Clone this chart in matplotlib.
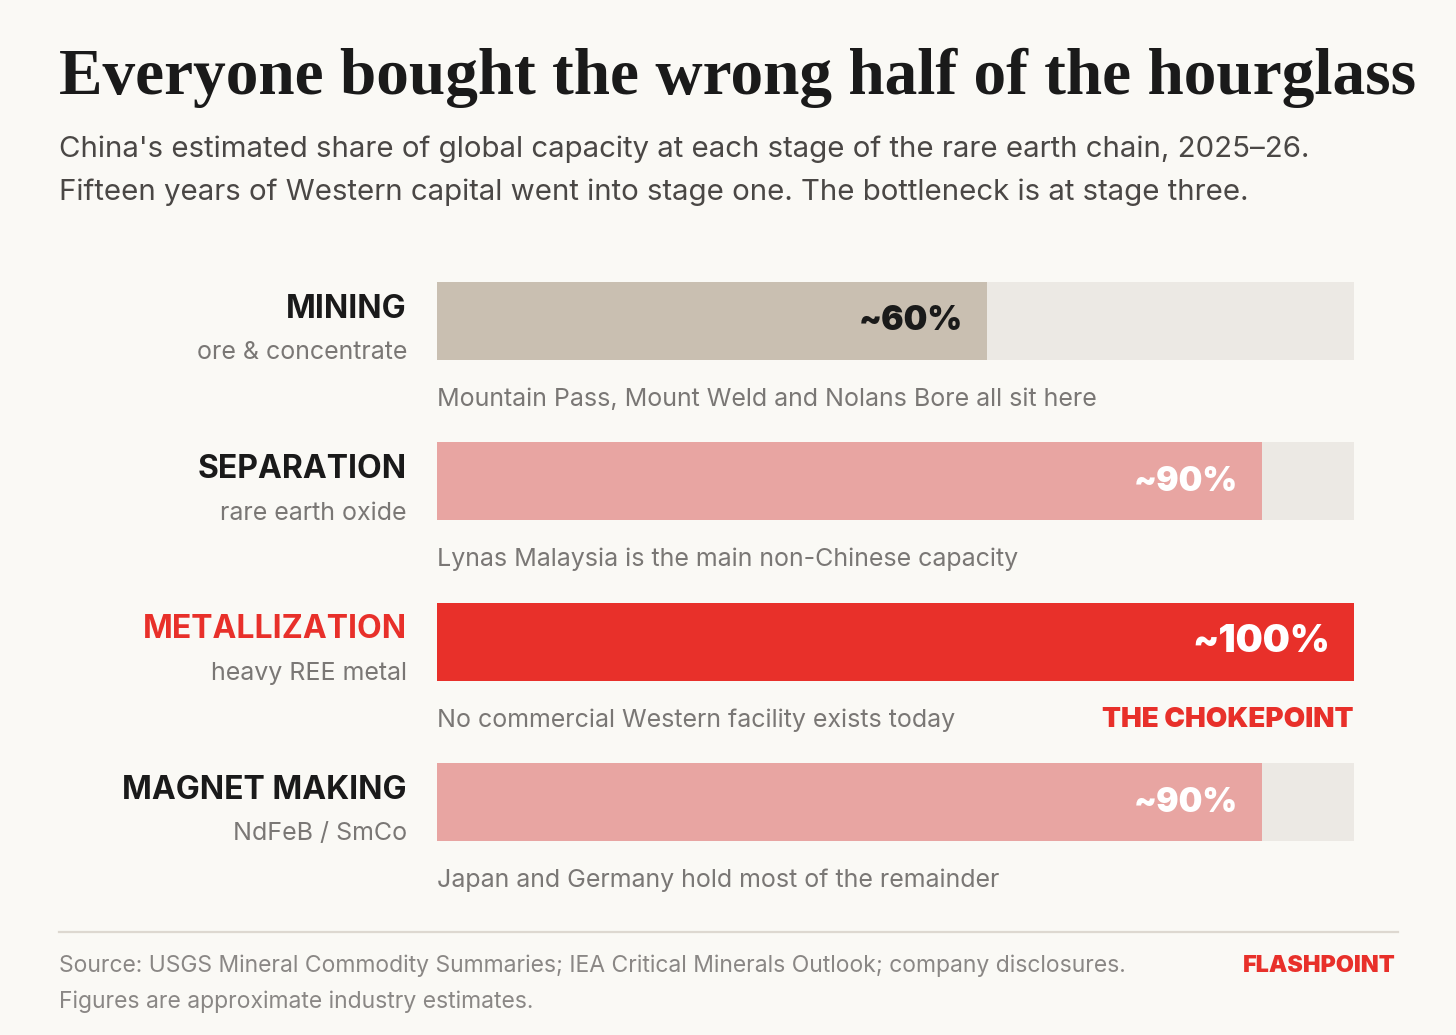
import matplotlib.pyplot as plt

# data
stages = ['MINING', 'SEPARATION', 'METALLIZATION', 'MAGNET MAKING']
stage_subs = ['ore & concentrate', 'rare earth oxide', 'heavy REE metal', 'NdFeB / SmCo']
shares = [60, 90, 100, 90]
share_labels = ['~60%', '~90%', '~100%', '~90%']
notes = ['Mountain Pass, Mount Weld and Nolans Bore all sit here',
         'Lynas Malaysia is the main non-Chinese capacity',
         'No commercial Western facility exists today',
         'Japan and Germany hold most of the remainder']
chokepoint = 2

title = 'Everyone bought the wrong half of the hourglass'
subtitle = ("China's estimated share of global capacity at each stage of the rare earth chain, 2025\u201326.\n"
            "Fifteen years of Western capital went into stage one. The bottleneck is at stage three.")
source = ('Source: USGS Mineral Commodity Summaries; IEA Critical Minerals Outlook; company disclosures.\n'
          'Figures are approximate industry estimates.')

# colours
BG = '#FAF9F5'
TRACK = '#ECE9E4'
TAN = '#C9BFB1'
PINK = '#E8A5A2'
RED = '#E8302A'
DARK = '#1A1A1A'
GREY = '#7A7775'

bar_colors = [TAN, PINK, RED, PINK]
value_colors = [DARK, 'white', 'white', 'white']
name_colors = [DARK, DARK, RED, DARK]

plt.rcParams['font.family'] = ['Inter', 'DejaVu Sans']

W, H = 1456, 1035
fig = plt.figure(figsize=(W / 100, H / 100), dpi=100, facecolor=BG)

# bar axes in pixel layout
x0, x1 = 437, 1354
y_top, y_bot = 240, 920
row0, pitch = 320.5, 160.5
ax = fig.add_axes([x0 / W, 1 - y_bot / H, (x1 - x0) / W, (y_bot - y_top) / H])
ax.set_facecolor('none')
ax.set_xlim(0, 100)
ax.set_ylim(3 + (y_bot - (row0 + 3 * pitch)) / pitch, -(row0 - y_top) / pitch)
ax.axis('off')

bh = 78 / pitch
rows = range(len(stages))
ax.barh(rows, [100] * len(stages), height=bh, color=TRACK)
ax.barh(rows, shares, height=bh, color=bar_colors)

ytr = ax.get_yaxis_transform()
for i in rows:
    fs = 27.5 if shares[i] == 100 else 24
    ax.annotate(share_labels[i], (shares[i], i), xytext=(-24, -1), textcoords='offset pixels',
                ha='right', va='center', fontsize=fs, fontweight='black', color=value_colors[i])
    ax.text(-30 / (x1 - x0), i - 11.5 / pitch, stages[i], transform=ytr, ha='right', va='center',
            fontsize=23, fontweight='bold', color=name_colors[i])
    ax.text(-30 / (x1 - x0), i + 32 / pitch, stage_subs[i], transform=ytr, ha='right', va='center',
            fontsize=18, color=GREY)
    ax.text(0, i + 78.5 / pitch, notes[i], transform=ytr, ha='left', va='center',
            fontsize=18, color=GREY)

ax.text(100, chokepoint + 78.5 / pitch, 'THE CHOKEPOINT', ha='right', va='center',
        fontsize=20, fontweight='black', color=RED)

# header
fig.text(59 / W, 1 - 78 / H, title, ha='left', va='center', fontsize=47,
         fontweight='bold', family=['Liberation Serif', 'DejaVu Serif'], color=DARK)
fig.text(59 / W, 1 - 171 / H, subtitle, ha='left', va='center', fontsize=21.2,
         color='#4A4745', linespacing=1.7)

# footer
fig.add_artist(plt.Line2D([59 / W, 1398 / W], [1 - 932 / H, 1 - 932 / H], color='#DDD8D0', lw=1.6))
fig.text(59 / W, 1 - 984 / H, source, ha='left', va='center', fontsize=16.5,
         color='#8A8785', linespacing=1.75)
fig.text(1396 / W, 1 - 966 / H, 'FLASHPOINT', ha='right', va='center', fontsize=16.8,
         fontweight='black', color=RED)

fig.savefig('out.png', dpi=100, facecolor=BG)
